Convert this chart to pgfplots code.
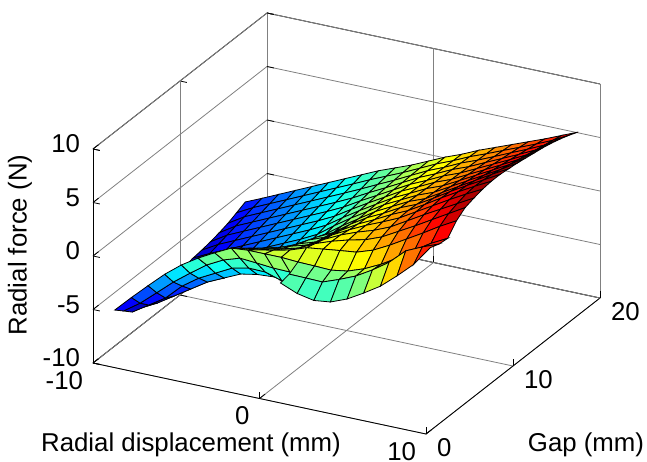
\documentclass[border=0pt]{standalone}
\usepackage{pgfplots}
\usepackage{fontspec}
\setmainfont{Liberation Sans}
\pgfplotsset{compat=1.18}
\begin{document}
\begin{tikzpicture}[x=1pt,y=1pt]
\path[use as bounding box] (0,0) rectangle (647,461);
\begin{axis}[
  at={(259.5pt,169.5pt)}, anchor=origin,
  x={(16.65pt,-3.55pt)}, y={(8.7pt,6.8pt)}, z={(0pt,10.7pt)},
  xmin=-10,xmax=10,ymin=0,ymax=20,zmin=-10,zmax=10,
  xtick={-10,0,10}, ytick={0,10,20}, ztick={-10,-5,0,5,10},
  grid=major, major grid style={gray,line width=0.8pt},
  axis line style={black,line width=0.8pt},
  tick style={black,line width=0.8pt}, major tick length=7pt,
  tick pos=left,
  /pgf/number format/assume math mode=true,
  ticklabel style={font=\fontsize{25.8}{30}\selectfont, inner sep=0pt, outer sep=0pt},
  xticklabel style={anchor=north east, xshift=-10pt, yshift=-8pt},
  yticklabel style={anchor=north west, xshift=11pt, yshift=-4pt},
  zticklabel style={anchor=east, xshift=-13pt, yshift=5pt},
  colormap={mj}{rgb=(0,0,0.5) rgb=(0,0,1) rgb=(0,0.5,1) rgb=(0,1,1) rgb=(0.5,1,0.5) rgb=(1,1,0) rgb=(1,0.5,0) rgb=(1,0,0) rgb=(0.5,0,0)},
  point meta min=-8.5, point meta max=8.95,
  clip=false,
]
\addplot3[surf, shader=faceted, faceted color=black, line width=0.8pt, z buffer=sort, mesh/ordering=y varies] coordinates {
(-10,2.5,-6.64)(-10,3.5,-7.36)(-10,4.5,-8.1)(-10,5.5,-8.36)(-10,6.5,-8.3)(-10,7.5,-8.2)(-10,8.5,-8.1)(-10,9.5,-7.9)(-10,10.5,-7.7)(-10,11.5,-7.5)(-10,12.5,-7.4)(-10,13.5,-7.25)(-10,14.5,-7.05)(-10,15.5,-6.8)(-10,16.5,-6.45)(-10,17.5,-6.07)

(-9,2.5,-5.14)(-9,3.5,-6.3)(-9,4.5,-7.11)(-9,5.5,-7.55)(-9,6.5,-7.46)(-9,7.5,-7.38)(-9,8.5,-7.29)(-9,9.5,-7.2)(-9,10.5,-6.98)(-9,11.5,-6.75)(-9,12.5,-6.53)(-9,13.5,-6.3)(-9,14.5,-6.08)(-9,15.5,-5.85)(-9,16.5,-5.63)(-9,17.5,-5.4)

(-8,2.5,-3.7)(-8,3.5,-4.99)(-8,4.5,-6.12)(-8,5.5,-6.57)(-8,6.5,-6.55)(-8,7.5,-6.53)(-8,8.5,-6.52)(-8,9.5,-6.5)(-8,10.5,-6.28)(-8,11.5,-6.05)(-8,12.5,-5.83)(-8,13.5,-5.6)(-8,14.5,-5.38)(-8,15.5,-5.15)(-8,16.5,-4.93)(-8,17.5,-4.7)

(-7,2.5,-2.3)(-7,3.5,-3.66)(-7,4.5,-4.67)(-7,5.5,-5.58)(-7,6.5,-5.63)(-7,7.5,-5.69)(-7,8.5,-5.74)(-7,9.5,-5.8)(-7,10.5,-5.58)(-7,11.5,-5.35)(-7,12.5,-5.13)(-7,13.5,-4.9)(-7,14.5,-4.68)(-7,15.5,-4.45)(-7,16.5,-4.23)(-7,17.5,-4.0)

(-6,2.5,-1.1)(-6,3.5,-2.5)(-6,4.5,-3.6)(-6,5.5,-4.6)(-6,6.5,-4.73)(-6,7.5,-4.85)(-6,8.5,-4.98)(-6,9.5,-5.1)(-6,10.5,-4.88)(-6,11.5,-4.65)(-6,12.5,-4.43)(-6,13.5,-4.2)(-6,14.5,-3.98)(-6,15.5,-3.75)(-6,16.5,-3.53)(-6,17.5,-3.3)

(-5,2.5,-0.13)(-5,3.5,-1.4)(-5,4.5,-2.8)(-5,5.5,-3.89)(-5,6.5,-4.02)(-5,7.5,-4.14)(-5,8.5,-4.27)(-5,9.5,-4.4)(-5,10.5,-4.18)(-5,11.5,-3.95)(-5,12.5,-3.73)(-5,13.5,-3.5)(-5,14.5,-3.28)(-5,15.5,-3.05)(-5,16.5,-2.83)(-5,17.5,-2.6)

(-4,2.5,0.7)(-4,3.5,0.07)(-4,4.5,-0.56)(-4,5.5,-1.19)(-4,6.5,-1.81)(-4,7.5,-2.44)(-4,8.5,-3.07)(-4,9.5,-3.7)(-4,10.5,-3.48)(-4,11.5,-3.25)(-4,12.5,-3.03)(-4,13.5,-2.8)(-4,14.5,-2.58)(-4,15.5,-2.35)(-4,16.5,-2.13)(-4,17.5,-1.9)

(-3,2.5,1.47)(-3,3.5,0.83)(-3,4.5,0.19)(-3,5.5,-0.45)(-3,6.5,-1.08)(-3,7.5,-1.72)(-3,8.5,-2.36)(-3,9.5,-3.0)(-3,10.5,-2.78)(-3,11.5,-2.55)(-3,12.5,-2.33)(-3,13.5,-2.1)(-3,14.5,-1.88)(-3,15.5,-1.65)(-3,16.5,-1.43)(-3,17.5,-1.2)

(-2,2.5,1.6)(-2,3.5,1.0)(-2,4.5,0.45)(-2,5.5,-0.1)(-2,6.5,-0.65)(-2,7.5,-1.15)(-2,8.5,-1.7)(-2,9.5,-2.2)(-2,10.5,-1.99)(-2,11.5,-1.78)(-2,12.5,-1.56)(-2,13.5,-1.35)(-2,14.5,-1.14)(-2,15.5,-0.93)(-2,16.5,-0.71)(-2,17.5,-0.5)

(-1,2.5,1.6)(-1,3.5,1.3)(-1,4.5,0.8)(-1,5.5,0.4)(-1,6.5,0)(-1,7.5,-0.3)(-1,8.5,-0.65)(-1,9.5,-1.0)(-1,10.5,-0.86)(-1,11.5,-0.73)(-1,12.5,-0.59)(-1,13.5,-0.45)(-1,14.5,-0.31)(-1,15.5,-0.18)(-1,16.5,-0.04)(-1,17.5,0.1)

(0,2.5,1.6)(0,3.5,1.65)(0,4.5,1.2)(0,5.5,0.85)(0,6.5,0.5)(0,7.5,0.3)(0,8.5,0.1)(0,9.5,0.1)(0,10.5,0.18)(0,11.5,0.25)(0,12.5,0.33)(0,13.5,0.4)(0,14.5,0.48)(0,15.5,0.55)(0,16.5,0.63)(0,17.5,0.7)

(1,2.5,1.5)(1,3.5,2.2)(1,4.5,1.95)(1,5.5,1.7)(1,6.5,1.5)(1,7.5,1.3)(1,8.5,1.2)(1,9.5,1.1)(1,10.5,1.14)(1,11.5,1.18)(1,12.5,1.21)(1,13.5,1.25)(1,14.5,1.29)(1,15.5,1.33)(1,16.5,1.36)(1,17.5,1.4)

(2,2.5,1.46)(2,3.5,2.4)(2,4.5,2.5)(2,5.5,2.45)(2,6.5,2.3)(2,7.5,2.2)(2,8.5,2.15)(2,9.5,2.1)(2,10.5,2.1)(2,11.5,2.1)(2,12.5,2.1)(2,13.5,2.1)(2,14.5,2.1)(2,15.5,2.1)(2,16.5,2.1)(2,17.5,2.1)

(3,2.5,1.4)(3,3.5,2.6)(3,4.5,2.95)(3,5.5,3.05)(3,6.5,3.05)(3,7.5,2.95)(3,8.5,2.9)(3,9.5,2.9)(3,10.5,2.88)(3,11.5,2.85)(3,12.5,2.83)(3,13.5,2.8)(3,14.5,2.78)(3,15.5,2.75)(3,16.5,2.73)(3,17.5,2.7)

(4,2.5,1.65)(4,3.5,2.78)(4,4.5,3.3)(4,5.5,3.55)(4,6.5,3.7)(4,7.5,3.75)(4,8.5,3.75)(4,9.5,3.7)(4,10.5,3.66)(4,11.5,3.63)(4,12.5,3.59)(4,13.5,3.55)(4,14.5,3.51)(4,15.5,3.48)(4,16.5,3.44)(4,17.5,3.4)

(5,2.5,2.2)(5,3.5,3.3)(5,4.5,3.9)(5,5.5,4.2)(5,6.5,4.4)(5,7.5,4.45)(5,8.5,4.4)(5,9.5,4.3)(5,10.5,4.26)(5,11.5,4.23)(5,12.5,4.19)(5,13.5,4.15)(5,14.5,4.11)(5,15.5,4.08)(5,16.5,4.04)(5,17.5,4.0)

(6,2.5,2.95)(6,3.5,4.1)(6,4.5,4.75)(6,5.5,5.1)(6,6.5,5.3)(6,7.5,5.35)(6,8.5,5.3)(6,9.5,5.2)(6,10.5,5.13)(6,11.5,5.05)(6,12.5,4.98)(6,13.5,4.9)(6,14.5,4.83)(6,15.5,4.75)(6,16.5,4.68)(6,17.5,4.6)

(7,2.5,3.87)(7,3.5,5.0)(7,4.5,5.6)(7,5.5,6.0)(7,6.5,6.2)(7,7.5,6.3)(7,8.5,6.25)(7,9.5,6.1)(7,10.5,5.99)(7,11.5,5.88)(7,12.5,5.76)(7,13.5,5.65)(7,14.5,5.54)(7,15.5,5.43)(7,16.5,5.31)(7,17.5,5.2)

(8,2.5,4.9)(8,3.5,5.9)(8,4.5,6.5)(8,5.5,6.85)(8,6.5,7.1)(8,7.5,7.2)(8,8.5,7.15)(8,9.5,7.0)(8,10.5,6.85)(8,11.5,6.7)(8,12.5,6.55)(8,13.5,6.4)(8,14.5,6.25)(8,15.5,6.1)(8,16.5,5.95)(8,17.5,5.8)

(9,2.5,5.9)(9,3.5,6.85)(9,4.5,7.4)(9,5.5,7.7)(9,6.5,7.95)(9,7.5,8.05)(9,8.5,8.0)(9,9.5,7.9)(9,10.5,7.72)(9,11.5,7.54)(9,12.5,7.36)(9,13.5,7.18)(9,14.5,6.99)(9,15.5,6.81)(9,16.5,6.63)(9,17.5,6.45)

(10,2.5,6.7)(10,3.5,7.7)(10,4.5,8.3)(10,5.5,8.55)(10,6.5,8.75)(10,7.5,8.85)(10,8.5,8.85)(10,9.5,8.75)(10,10.5,8.65)(10,11.5,8.5)(10,12.5,8.35)(10,13.5,8.2)(10,14.5,8.0)(10,15.5,7.75)(10,16.5,7.45)(10,17.5,7.1)
};
\addplot3[surf, shader=faceted, faceted color=black, line width=0.8pt, z buffer=sort, mesh/ordering=y varies] coordinates {
(-5,2.5,-0.13)(-5,3.5,-1.4)(-5,4.5,-2.8)(-5,5.5,-3.89)

(-4,2.5,0.7)(-4,3.5,-0.6)(-4,4.5,-2)(-4,5.5,-3.19)

(-3,2.5,1.47)(-3,3.5,-0.1)(-3,4.5,-1.66)(-3,5.5,-2.9)

(-2,2.5,1.6)(-2,3.5,-0.22)(-2,4.5,-1.7)(-2,5.5,-2.8)

(-1,2.5,1.6)(-1,3.5,-0.36)(-1,4.5,-2.2)(-1,5.5,-2.94)

(0,2.5,1.6)(0,3.5,-0.4)(0,4.5,-1.7)(0,5.5,-2.9)

(1,2.5,1.5)(1,3.5,-0.1)(1,4.5,-1.45)(1,5.5,-2.55)
};
\addplot3[surf, shader=faceted, faceted color=black, line width=0.8pt, z buffer=sort, mesh/ordering=y varies, point meta=explicit] coordinates {
(1,0.5,0.81)[-0.6](1,1.5,1.0)[-0.2](1,2.5,1.5)[0.3]

(2,0.5,0.16)[-1.3](2,1.5,0.97)[-0.3](2,2.5,1.46)[0.3]

(3,0.5,-0.16)[-1.5](3,1.5,0.93)[-0.4](3,2.5,1.4)[0.4]

(4,0.5,0.03)[-1.4](4,1.5,1.5)[0](4,2.5,1.65)[0.8]

(5,0.5,0.64)[-1.0](5,1.5,2.15)[0.5](5,2.5,2.2)[1.5]

(6,0.5,1.53)[-0.3](6,1.5,3.05)[1.8](6,2.5,2.95)[2.5]

(7,0.5,2.5)[1.3](7,1.5,4.1)[3](7,2.5,3.87)[3.8]

(8,0.5,3.8)[3](8,1.5,5.5)[5](8,2.5,4.9)[5]

(9,0.5,5.2)[5](9,1.5,6.2)[6.2](9,2.5,5.9)[5.9]

(10,0.5,7.1)[7.1](10,1.5,6.8)[6.8](10,2.5,6.7)[6.7]
};
\end{axis}
\node[font=\fontsize{25.8}{30}\selectfont] at (191,16) {Radial displacement (mm)};
\node[font=\fontsize{25.8}{30}\selectfont] at (586,16) {Gap (mm)};
\node[font=\fontsize{25.8}{30}\selectfont,rotate=90] at (20,216) {Radial force (N)};
\end{tikzpicture}
\end{document}
